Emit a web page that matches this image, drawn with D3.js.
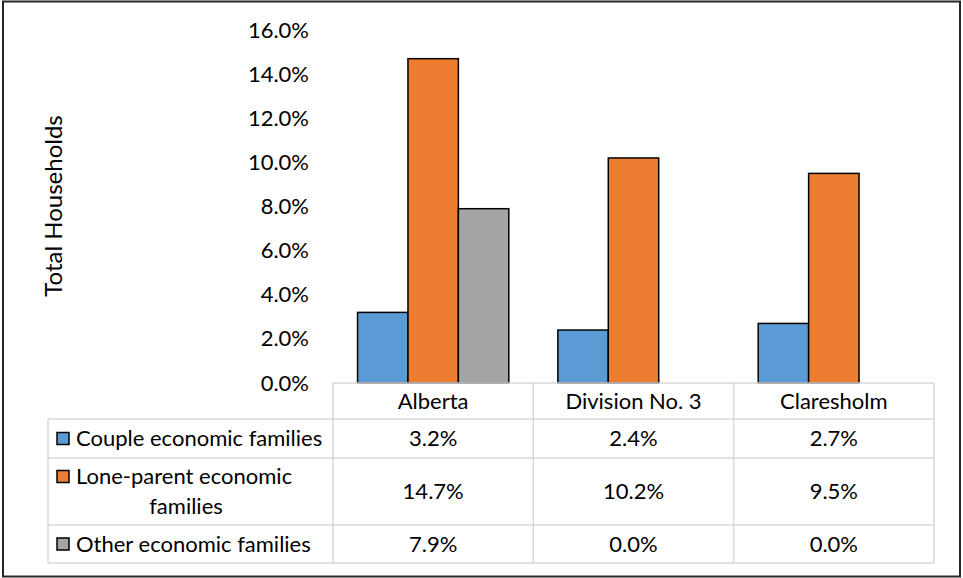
<!DOCTYPE html>
<html>
<head>
<meta charset="utf-8">
<script src="https://cdn.jsdelivr.net/npm/d3@7.9.0/dist/d3.min.js"></script>
<style>
  body { margin: 0; background: #fff; }
  svg { display: block; font-family: Lato, "Open Sans", sans-serif; }
</style>
</head>
<body>
<svg width="963" height="578"></svg>
<script>
const categories = ['Alberta', 'Division No. 3', 'Claresholm'];
const seriesNames = ['Couple economic families', 'Lone-parent economic families', 'Other economic families'];
const coupleValues = [3.2, 2.4, 2.7];
const loneParentValues = [14.7, 10.2, 9.5];
const otherValues = [7.9, 0.0, 0.0];
const yTicks = [0, 2, 4, 6, 8, 10, 12, 14, 16];

const seriesColors = ['#5B9BD5', '#ED7D31', '#A5A5A5'];
const series = [coupleValues, loneParentValues, otherValues];
// legend text is wrapped the way Excel does it
const legendLines = [['Couple economic families'], ['Lone-parent economic', 'families'], ['Other economic families']];

const svg = d3.select('svg');
const fontSize = 22;
const gridColor = '#d9d9d9';

// outer chart border
svg.append('rect')
    .attr('x', 3).attr('y', 1.5)
    .attr('width', 957).attr('height', 575)
    .attr('fill', 'none')
    .attr('stroke', '#262626')
    .attr('stroke-width', 2);

const x = d3.scaleBand()
    .domain(categories)
    .range([333, 934])
    .paddingInner(0.245)
    .paddingOuter(0.1225);

const x1 = d3.scaleBand()
    .domain(d3.range(series.length))
    .range([0, x.bandwidth()]);

const y = d3.scaleLinear().domain([0, 16]).range([383, 30]);

// y axis labels, no line or ticks
const yAxis = svg.append('g')
    .attr('transform', 'translate(309,0)')
    .call(d3.axisLeft(y).tickValues(yTicks).tickSize(0).tickPadding(0).tickFormat(d => d.toFixed(1) + '%'));
yAxis.select('.domain').remove();
yAxis.selectAll('text')
    .attr('font-size', fontSize)
    .attr('font-family', 'Lato, "Open Sans", sans-serif')
    .attr('fill', '#000');

svg.append('text')
    .attr('transform', 'translate(54,206) rotate(-90)')
    .attr('text-anchor', 'middle')
    .attr('dy', '0.35em')
    .attr('font-size', 24)
    .text('Total Households');

// bars
categories.forEach((cat, ci) => {
    series.forEach((vals, si) => {
        if (vals[ci] <= 0) return;
        svg.append('rect')
            .attr('x', x(cat) + x1(si))
            .attr('y', y(vals[ci]))
            .attr('width', x1.bandwidth())
            .attr('height', y(0) - y(vals[ci]))
            .attr('fill', seriesColors[si])
            .attr('stroke', '#000')
            .attr('stroke-width', 1.5);
    });
});

// data table
const step = x.step();
const colEdges = categories.map((_, i) => 333 + i * step).concat([333 + categories.length * step]);
const rowEdges = [383, 419, 458, 525, 563];
const legendLeft = 48;

const table = svg.append('g').attr('stroke', gridColor).attr('stroke-width', 1.5);
// horizontal lines
rowEdges.forEach((ry, i) => {
    table.append('line')
        .attr('x1', i === 0 ? colEdges[0] : legendLeft).attr('x2', colEdges[colEdges.length - 1])
        .attr('y1', ry).attr('y2', ry);
});
// vertical lines
colEdges.forEach(cx => {
    table.append('line').attr('x1', cx).attr('x2', cx).attr('y1', rowEdges[0]).attr('y2', rowEdges[4]);
});
table.append('line').attr('x1', legendLeft).attr('x2', legendLeft).attr('y1', rowEdges[1]).attr('y2', rowEdges[4]);

// header row
categories.forEach((cat, i) => {
    svg.append('text')
        .attr('x', (colEdges[i] + colEdges[i + 1]) / 2)
        .attr('y', (rowEdges[0] + rowEdges[1]) / 2)
        .attr('dy', '0.35em')
        .attr('text-anchor', 'middle')
        .attr('font-size', fontSize)
        .text(cat);
});

// series rows
series.forEach((vals, si) => {
    const top = rowEdges[si + 1], bottom = rowEdges[si + 2];
    const mid = (top + bottom) / 2;
    const lines = legendLines[si];
    const lineH = 30;
    const firstY = mid - (lines.length - 1) * lineH / 2;

    svg.append('rect')
        .attr('x', 57).attr('y', firstY - 6)
        .attr('width', 12).attr('height', 12)
        .attr('fill', seriesColors[si])
        .attr('stroke', '#000')
        .attr('stroke-width', 1.5);

    lines.forEach((ln, li) => {
        svg.append('text')
            .attr('x', li === 0 ? 76 : 186)
            .attr('y', firstY + li * lineH)
            .attr('dy', '0.35em')
            .attr('text-anchor', li === 0 ? 'start' : 'middle')
            .attr('font-size', fontSize)
            .text(ln);
    });

    vals.forEach((v, ci) => {
        svg.append('text')
            .attr('x', (colEdges[ci] + colEdges[ci + 1]) / 2)
            .attr('y', mid)
            .attr('dy', '0.35em')
            .attr('text-anchor', 'middle')
            .attr('font-size', fontSize)
            .text(v.toFixed(1) + '%');
    });
});
</script>
</body>
</html>
